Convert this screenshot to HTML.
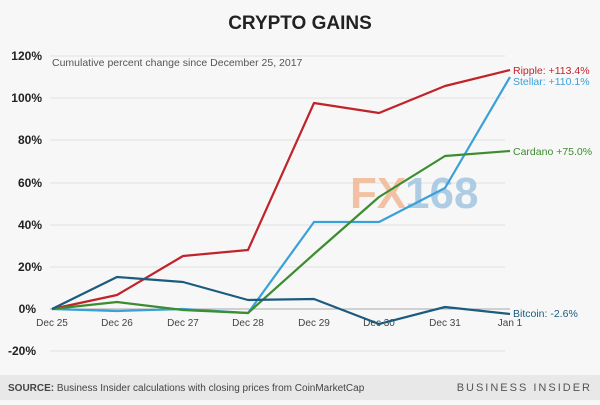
<!DOCTYPE html><html><head><style>body{margin:0;width:600px;height:400px;background:#f7f7f7;font-family:"Liberation Sans",sans-serif;overflow:hidden}</style></head><body>
<svg width="600" height="400" xmlns="http://www.w3.org/2000/svg" font-family="Liberation Sans, sans-serif">
<rect width="600" height="400" fill="#f7f7f7"/>
<text x="300" y="29" text-anchor="middle" font-size="19" font-weight="bold" fill="#222">CRYPTO GAINS</text>
<g stroke="#e2e2e2" stroke-width="1">
<line x1="50" x2="505" y1="56" y2="56"/><line x1="50" x2="505" y1="98" y2="98"/><line x1="50" x2="505" y1="140" y2="140"/><line x1="50" x2="505" y1="183" y2="183"/><line x1="50" x2="505" y1="225" y2="225"/><line x1="50" x2="505" y1="267" y2="267"/><line x1="50" x2="505" y1="351" y2="351"/>
</g>
<line x1="50" x2="510" y1="309" y2="309" stroke="#aaa" stroke-width="1"/>
<g font-size="12" font-weight="bold" fill="#222" text-anchor="end">
<text x="42" y="60">120%</text><text x="42" y="102">100%</text><text x="42" y="144">80%</text><text x="42" y="187">60%</text><text x="42" y="229">40%</text><text x="42" y="271">20%</text><text x="36" y="313">0%</text><text x="36" y="355">-20%</text></g>
<text x="52" y="66" font-size="10.5" fill="#555">Cumulative percent change since December 25, 2017</text>
<g font-size="10" fill="#444" text-anchor="middle">
<text x="52" y="326">Dec 25</text><text x="117" y="326">Dec 26</text><text x="183" y="326">Dec 27</text><text x="248" y="326">Dec 28</text><text x="314" y="326">Dec 29</text><text x="379" y="326">Dec 30</text><text x="445" y="326">Dec 31</text><text x="510" y="326">Jan 1</text></g>
<text x="350" y="208" font-size="44" font-weight="bold" fill="#f2b48f" opacity="0.8">FX</text><text x="405" y="208" font-size="44" font-weight="bold" fill="#9cc3e0" opacity="0.8">168</text>
<g fill="none" stroke-width="2.2" stroke-linejoin="round">
<polyline stroke="#3aa0d8" points="52,309 117,311 183,309 248,313 314,222 379,222 445,188 510,77"/>
<polyline stroke="#c1232b" points="52,309 117,295 183,256 248,250 314,103 379,113 445,86 510,70"/>
<polyline stroke="#3c8d2f" points="52,309 117,302 183,310 248,313 314,254 379,197 445,156 510,151"/>
<polyline stroke="#1b5b7e" points="52,309 117,277 183,282 248,300 314,299 379,324 445,307 510,314"/>
</g>
<g font-size="10.5">
<text x="513" y="74" fill="#c1232b">Ripple: +113.4%</text>
<text x="513" y="85" fill="#3aa0d8">Stellar: +110.1%</text>
<text x="513" y="155" fill="#3c8d2f">Cardano +75.0%</text>
<text x="513" y="317" fill="#1b5b7e">Bitcoin: -2.6%</text></g>
<rect y="375" width="600" height="25" fill="#e8e8e8"/>
<text x="8" y="391" font-size="10" fill="#444"><tspan font-weight="bold">SOURCE:</tspan> Business Insider calculations with closing prices from CoinMarketCap</text>
<text x="592" y="391" font-size="11" fill="#555" text-anchor="end" letter-spacing="2">BUSINESS INSIDER</text>
</svg></body></html>
